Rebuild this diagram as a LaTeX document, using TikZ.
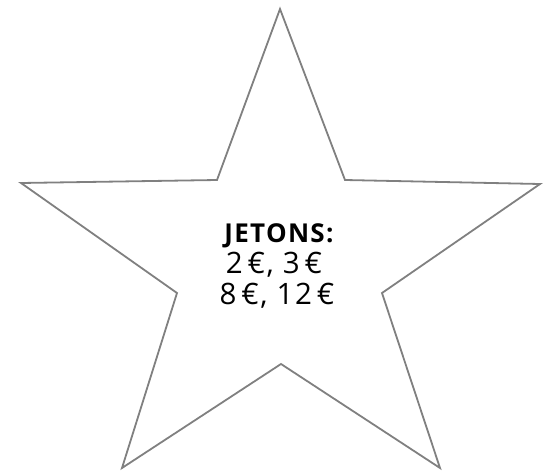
\documentclass[tikz,border=0pt]{standalone}
\usepackage{fontspec}
\setmainfont{Open Sans}
\newfontfamily\starfont[LetterSpace=5]{Open Sans}
\begin{document}
\begin{tikzpicture}[x=1pt,y=1pt,
  starline/.style={draw=black!50, line width=1.8pt, line join=miter, fill=white},
  txt/.style={anchor=base, inner sep=0pt, font=\starfont\fontsize{29.5}{33}\selectfont}]
\useasboundingbox (0,0) rectangle (548,472);
\coordinate (t)  at (280,463);
\coordinate (iul) at (217,292);
\coordinate (l)  at (21,289);
\coordinate (ill) at (177,179);
\coordinate (bl) at (122,4);
\coordinate (ib) at (281,108);
\coordinate (br) at (440,4);
\coordinate (ilr) at (382,179);
\coordinate (r)  at (540,288);
\coordinate (iur) at (345,292);
\draw[starline] (t) -- (iul) -- (l) -- (ill) -- (bl) -- (ib) -- (br) -- (ilr) -- (r) -- (iur) -- cycle;
\node[txt, font=\starfont\bfseries\fontsize{26}{30}\selectfont] (h) at (279,230) {JETONS:};
\node[txt] (a) at (274,199) {2\,€, 3\,€};
\node[txt] (b) at (277,168) {8\,€, 12\,€};
\end{tikzpicture}
\end{document}
